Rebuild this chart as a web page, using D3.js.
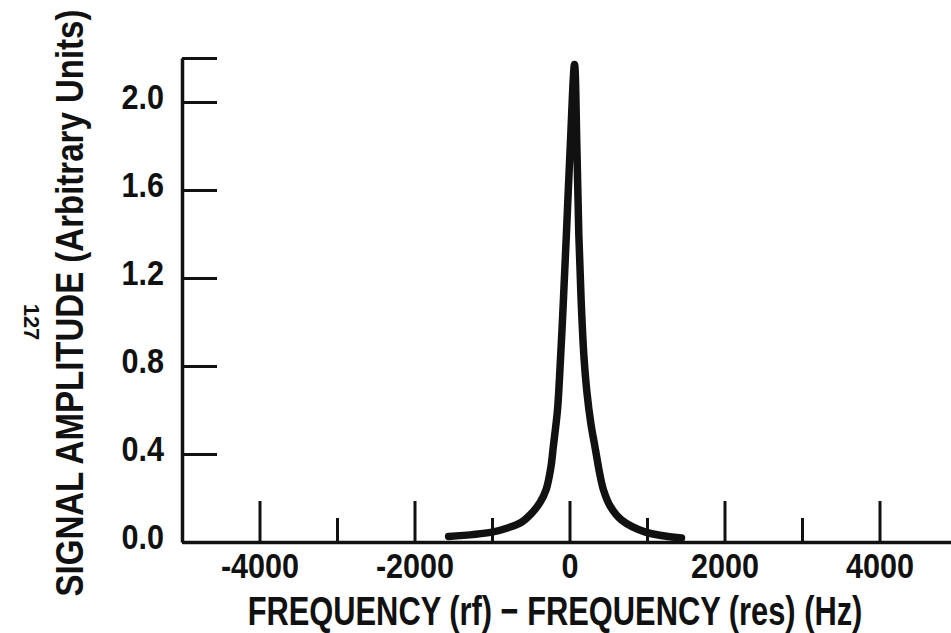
<!DOCTYPE html>
<html>
<head>
<meta charset="utf-8">
<script src="https://cdn.jsdelivr.net/npm/d3@7"></script>
<style>
  body { margin: 0; background: #fff; }
  text { font-family: "Liberation Sans", Arial, sans-serif; fill: #111; font-weight: bold; }
</style>
</head>
<body>
<div id="chart"></div>
<script>
// resonance curve: frequency offset (Hz) and amplitude
var freq = [-1560, -1000, -790, -620, -490, -380, -300, -240, -210, -155, -130, -85, -40, 10, 65,
  95, 120, 150, 185, 225, 275, 335, 390, 440, 530, 671, 981, 1445];
var amp = [0.025, 0.045, 0.065, 0.09, 0.13, 0.18, 0.24, 0.34, 0.43, 0.60, 0.74, 1.05, 1.4, 1.8, 2.17,
  1.8, 1.4, 1.1, 0.85, 0.68, 0.54, 0.42, 0.31, 0.235, 0.16, 0.10, 0.045, 0.018];

var xMajor = [-4000, -2000, 0, 2000, 4000];
var xMinor = [-3000, -1000, 1000, 3000];
var yTicks = [0, 0.4, 0.8, 1.2, 1.6, 2.0, 2.2];
var yLabels = ["0.0", "0.4", "0.8", "1.2", "1.6", "2.0", ""];

var W = 951, H = 633;
var squeeze = 0.85; // the scan uses a condensed face

var svg = d3.select("#chart")
  .append("svg")
  .attr("width", W)
  .attr("height", H);

var x = d3.scaleLinear().domain([-5000, 5000]).range([182, 957]);
var y = d3.scaleLinear().domain([0, 2.2]).range([542, 58]);

// x axis, major ticks with labels
var xAxis = svg.append("g")
  .attr("transform", "translate(0," + y(0) + ")")
  .call(d3.axisBottom(x).tickValues(xMajor).tickSize(-41).tickSizeOuter(0).tickPadding(10)
    .tickFormat(function (d) { return d < 0 ? "-" + Math.abs(d) : d; }));
xAxis.select(".domain").attr("stroke", "#111").attr("stroke-width", 3.5);
xAxis.selectAll(".tick line").attr("stroke", "#111").attr("stroke-width", 3);
xAxis.selectAll(".tick text")
  .attr("font-size", 36).attr("dy", 26)
  .attr("transform", "scale(" + squeeze + ",1)");

// minor x ticks
var xAxisMinor = svg.append("g")
  .attr("transform", "translate(0," + y(0) + ")")
  .call(d3.axisBottom(x).tickValues(xMinor).tickSize(-24).tickFormat(""));
xAxisMinor.select(".domain").remove();
xAxisMinor.selectAll(".tick line").attr("stroke", "#111").attr("stroke-width", 3);

// y axis
var yAxis = svg.append("g")
  .attr("transform", "translate(" + x(-5000) + ",0)")
  .call(d3.axisLeft(y).tickValues(yTicks).tickSize(-35).tickSizeOuter(0).tickPadding(18)
    .tickFormat(function (d, i) { return yLabels[i]; }));
yAxis.select(".domain").attr("stroke", "#111").attr("stroke-width", 3.5);
yAxis.selectAll(".tick line").attr("stroke", "#111").attr("stroke-width", 3);
yAxis.selectAll(".tick text")
  .attr("font-size", 36).attr("dy", 6)
  .attr("x", -18 / squeeze)
  .attr("transform", "scale(" + squeeze + ",1)");

// the curve
var pts = freq.map(function (f, i) { return [f, amp[i]]; });
var line = d3.line()
  .x(function (d) { return x(d[0]); })
  .y(function (d) { return y(d[1]); })
  .curve(d3.curveCatmullRom.alpha(0.5));
svg.append("path")
  .datum(pts)
  .attr("d", line)
  .attr("fill", "none")
  .attr("stroke", "#111")
  .attr("stroke-width", 7.5)
  .attr("stroke-linecap", "round")
  .attr("stroke-linejoin", "round");

// squeeze a title horizontally so it fills the width seen in the scan
function fitText(t, width) {
  var len = t.node().getComputedTextLength();
  t.attr("transform", t.attr("transform") + " scale(" + (width / len) + ",1)");
}

// axis titles
var xTitle = svg.append("text")
  .attr("transform", "translate(555,625)")
  .attr("text-anchor", "middle")
  .attr("font-size", 41)
  .text("FREQUENCY (rf) \u2212 FREQUENCY (res) (Hz)");
fitText(xTitle, 615);

var yTitle = svg.append("text")
  .attr("transform", "translate(83,303) rotate(-90)")
  .attr("text-anchor", "middle")
  .attr("font-size", 39)
  .text("SIGNAL AMPLITUDE (Arbitrary Units)");
fitText(yTitle, 587);

// page number from the scan
svg.append("text")
  .attr("transform", "translate(24,322) rotate(90)")
  .attr("text-anchor", "middle")
  .attr("font-size", 22)
  .attr("font-weight", "normal")
  .text("127");
</script>
</body>
</html>
